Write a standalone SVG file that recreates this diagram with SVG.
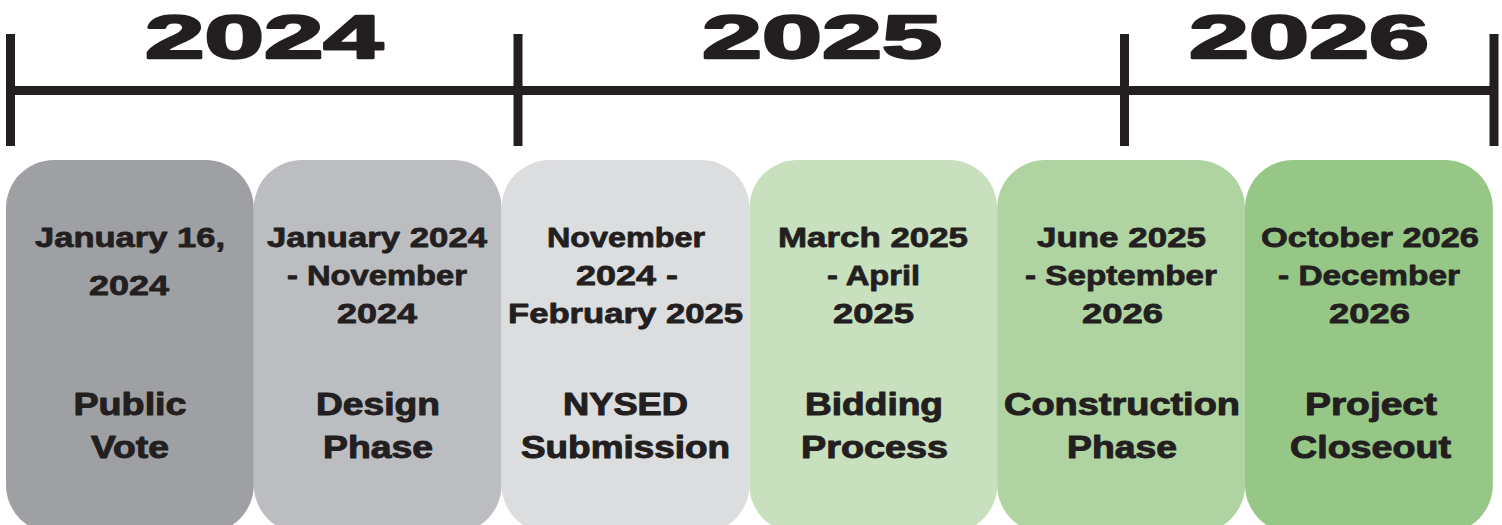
<svg xmlns="http://www.w3.org/2000/svg" width="1502" height="525" viewBox="0 0 1502 525">
<style>
.yr{font-family:"Liberation Sans",Arial,sans-serif;font-weight:bold;font-size:62px;fill:#231f20;stroke:#231f20;stroke-width:2.4;stroke-linejoin:round;text-anchor:middle}
.dt{font-family:"Liberation Sans",Arial,sans-serif;font-weight:bold;font-size:28px;fill:#231f20;stroke:#231f20;stroke-width:0.8;stroke-linejoin:round;text-anchor:middle}
.tt{font-family:"Liberation Sans",Arial,sans-serif;font-weight:bold;font-size:31px;fill:#231f20;stroke:#231f20;stroke-width:1;stroke-linejoin:round;text-anchor:middle}
.ax{stroke:#231f20;stroke-width:9;fill:none}
</style>
<rect width="1502" height="525" fill="#ffffff"/>
<g id="axis">
<line class="ax" x1="10.5" y1="90.5" x2="1494" y2="90.5"/>
<line class="ax" x1="10.5" y1="34" x2="10.5" y2="146"/>
<line class="ax" x1="518" y1="34" x2="518" y2="146"/>
<line class="ax" x1="1124.5" y1="34" x2="1124.5" y2="146"/>
<line class="ax" x1="1494" y1="34" x2="1494" y2="146"/>
<text class="yr" x="264" y="58" textLength="238" lengthAdjust="spacingAndGlyphs">2024</text>
<text class="yr" x="822" y="58" textLength="240" lengthAdjust="spacingAndGlyphs">2025</text>
<text class="yr" x="1309" y="58" textLength="240" lengthAdjust="spacingAndGlyphs">2026</text>
</g>
<g id="public-vote">
<rect x="6" y="160" width="247.8" height="373" rx="48" fill="#9fa0a3"/>
<text class="dt" x="130" y="247" textLength="190" lengthAdjust="spacingAndGlyphs">January 16,</text>
<text class="dt" x="129" y="295" textLength="80" lengthAdjust="spacingAndGlyphs">2024</text>
<text class="tt" x="130" y="415" textLength="113" lengthAdjust="spacingAndGlyphs">Public</text>
<text class="tt" x="130" y="458" textLength="78" lengthAdjust="spacingAndGlyphs">Vote</text>
</g>
<g id="design-phase">
<rect x="253.8" y="160" width="247.8" height="373" rx="48" fill="#bcbdc0"/>
<text class="dt" x="377" y="247" textLength="220" lengthAdjust="spacingAndGlyphs">January 2024</text>
<text class="dt" x="377" y="285" textLength="180" lengthAdjust="spacingAndGlyphs">- November</text>
<text class="dt" x="377" y="323" textLength="80" lengthAdjust="spacingAndGlyphs">2024</text>
<text class="tt" x="378" y="415" textLength="124" lengthAdjust="spacingAndGlyphs">Design</text>
<text class="tt" x="378" y="458" textLength="110" lengthAdjust="spacingAndGlyphs">Phase</text>
</g>
<g id="nysed-submission">
<rect x="501.6" y="160" width="247.8" height="373" rx="48" fill="#dcdddf"/>
<text class="dt" x="626" y="247" textLength="158" lengthAdjust="spacingAndGlyphs">November</text>
<text class="dt" x="627" y="285" textLength="102" lengthAdjust="spacingAndGlyphs">2024 -</text>
<text class="dt" x="625.5" y="323" textLength="235" lengthAdjust="spacingAndGlyphs">February 2025</text>
<text class="tt" x="625.5" y="415" textLength="125" lengthAdjust="spacingAndGlyphs">NYSED</text>
<text class="tt" x="625.5" y="458" textLength="209" lengthAdjust="spacingAndGlyphs">Submission</text>
</g>
<g id="bidding-process">
<rect x="749.4" y="160" width="247.8" height="373" rx="48" fill="#c9e0be"/>
<text class="dt" x="873" y="247" textLength="190" lengthAdjust="spacingAndGlyphs">March 2025</text>
<text class="dt" x="873.5" y="285" textLength="93" lengthAdjust="spacingAndGlyphs">- April</text>
<text class="dt" x="873.5" y="323" textLength="81" lengthAdjust="spacingAndGlyphs">2025</text>
<text class="tt" x="874" y="415" textLength="138" lengthAdjust="spacingAndGlyphs">Bidding</text>
<text class="tt" x="874.5" y="458" textLength="147" lengthAdjust="spacingAndGlyphs">Process</text>
</g>
<g id="construction-phase">
<rect x="997.2" y="160" width="247.8" height="373" rx="48" fill="#afd3a1"/>
<text class="dt" x="1121.5" y="247" textLength="169" lengthAdjust="spacingAndGlyphs">June 2025</text>
<text class="dt" x="1121" y="285" textLength="192" lengthAdjust="spacingAndGlyphs">- September</text>
<text class="dt" x="1122.5" y="323" textLength="81" lengthAdjust="spacingAndGlyphs">2026</text>
<text class="tt" x="1122" y="415" textLength="236" lengthAdjust="spacingAndGlyphs">Construction</text>
<text class="tt" x="1122" y="458" textLength="110" lengthAdjust="spacingAndGlyphs">Phase</text>
</g>
<g id="project-closeout">
<rect x="1245" y="160" width="247.8" height="373" rx="48" fill="#97c786"/>
<text class="dt" x="1370" y="247" textLength="218" lengthAdjust="spacingAndGlyphs">October 2026</text>
<text class="dt" x="1369" y="285" textLength="182" lengthAdjust="spacingAndGlyphs">- December</text>
<text class="dt" x="1369.5" y="323" textLength="81" lengthAdjust="spacingAndGlyphs">2026</text>
<text class="tt" x="1371" y="415" textLength="132" lengthAdjust="spacingAndGlyphs">Project</text>
<text class="tt" x="1370.5" y="458" textLength="161" lengthAdjust="spacingAndGlyphs">Closeout</text>
</g>
</svg>
